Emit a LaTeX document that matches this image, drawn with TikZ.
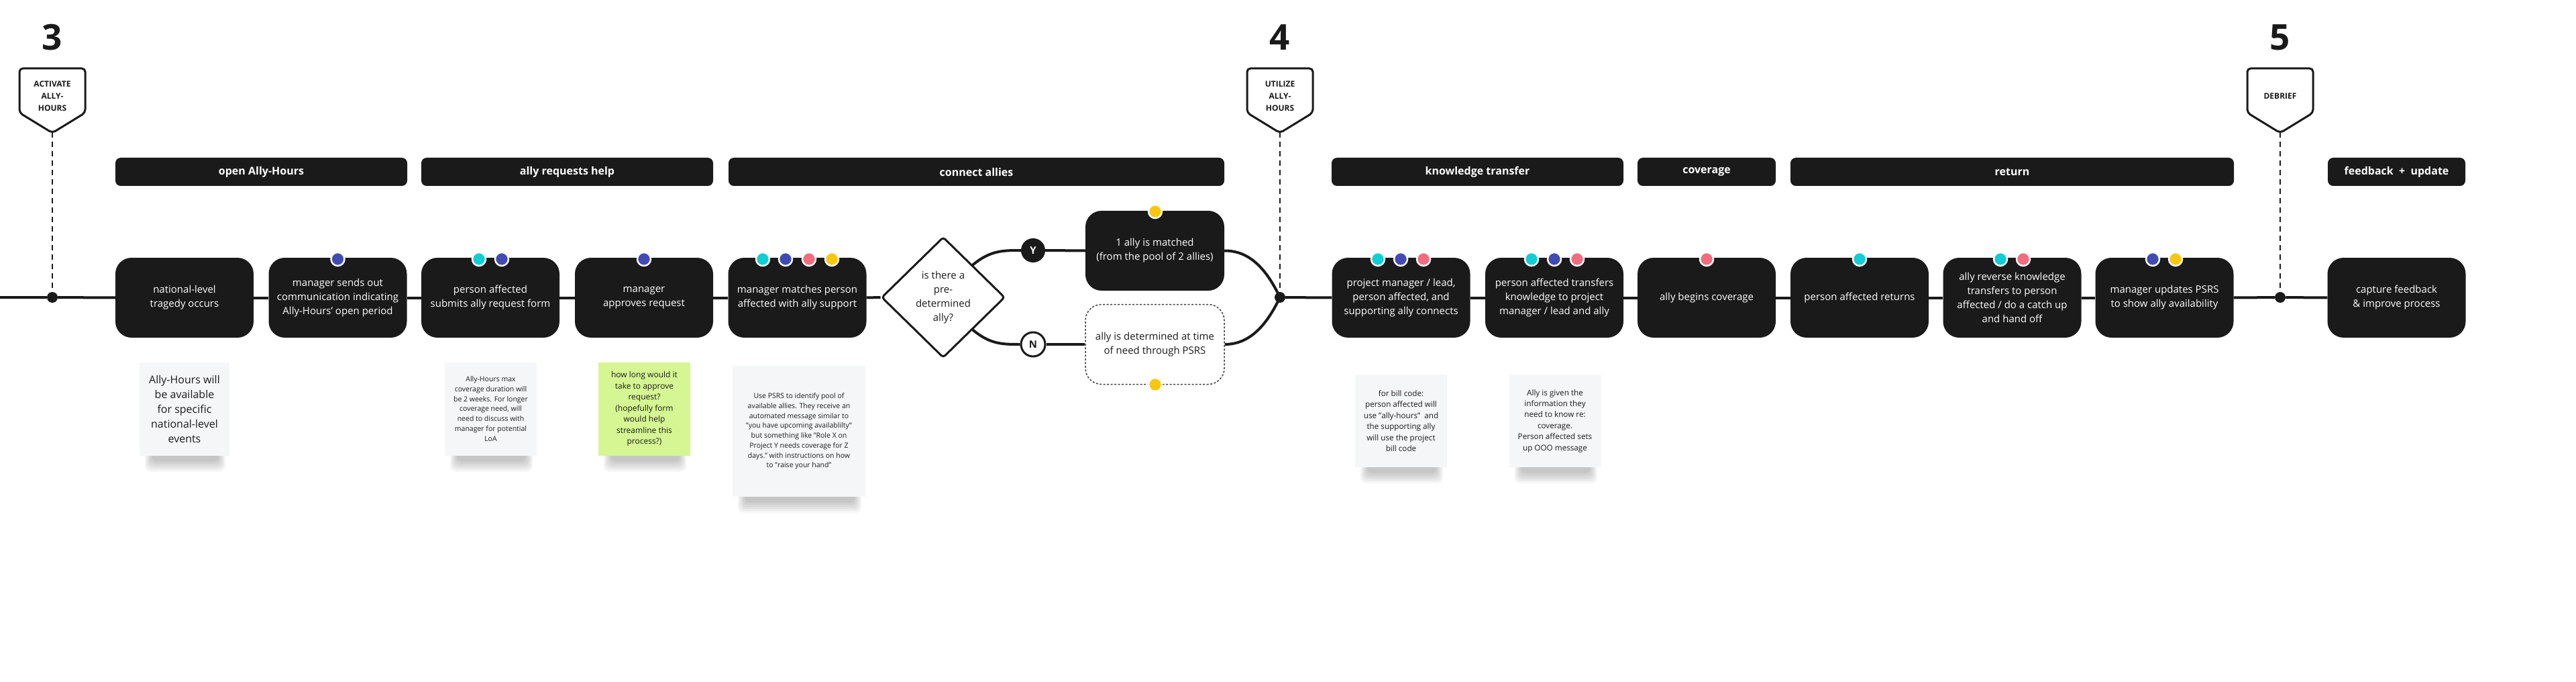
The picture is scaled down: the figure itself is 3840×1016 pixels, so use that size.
\documentclass[tikz,border=0pt]{standalone}
\usepackage{fontspec}
\setmainfont{Open Sans}
\usetikzlibrary{shapes.geometric}
\definecolor{ink}{HTML}{1A1A1A}
\definecolor{mcyan}{HTML}{12CDD4}
\definecolor{mblue}{HTML}{414BB2}
\definecolor{mpink}{HTML}{F16C7F}
\definecolor{myellow}{HTML}{FAC710}
\definecolor{notegrey}{HTML}{F5F6F8}
\definecolor{notegreen}{HTML}{D5F692}
\pgfdeclarelayer{bg}
\pgfsetlayers{bg,main}
\newcommand\mkflag[3]{%
  \draw[ink, line width=3pt, fill=white, rounded corners=5pt]
    (#2-49,102) -- (#2+49,102) -- (#2+49,168) -- (#2,198) -- (#2-49,168) -- cycle;
  \node[flagtext] (#1) at (#2,143) {#3};
  \coordinate (#1tip) at (#2,197);
}
\newcommand\mdot[3]{\node[mdotst, fill=#3] (#1) at (#2) {};}
\newcommand\mknote[8]{%
  \pgfmathsetmacro\nxl{#2-#4/2}\pgfmathsetmacro\nxr{#2+#4/2}\pgfmathsetmacro\nyb{#3+#5/2}
  \foreach \k in {0,...,5}{\fill[black,opacity=0.04,rounded corners=8pt]
    (\nxl+8+2*\k,\nyb-6) rectangle (\nxr-6-2*\k,\nyb+24-3*\k);}
  \node[note, fill=#6, minimum width=#4pt, minimum height=#5pt, font=#7] (#1) at (#2,#3) {#8};
}
\begin{document}
\begin{tikzpicture}[x=1pt,y=-1pt,
  stepbox/.style={fill=ink, rounded corners=24pt, minimum width=206pt, minimum height=119pt,
    text=white, align=center, font=\fontsize{15}{21}\selectfont, inner sep=0pt},
  phase/.style={fill=ink, rounded corners=8pt, minimum height=42pt, text=white,
    font=\bfseries\fontsize{16}{20}\selectfont, inner sep=0pt},
  flagtext/.style={text=ink, align=center, font=\bfseries\fontsize{12}{18}\selectfont, inner sep=0pt},
  numst/.style={text=ink, font=\bfseries\fontsize{53}{60}\selectfont, inner sep=0pt},
  tdot/.style={circle, fill=ink, minimum size=16pt, inner sep=0pt},
  mdotst/.style={circle, draw=white, line width=2.5pt, minimum size=20pt, inner sep=0pt},
  flow/.style={draw=ink, line width=4pt},
  tdash/.style={draw=ink, line width=2pt, dash pattern=on 8pt off 6pt},
  note/.style={inner sep=0pt, text=ink, align=center},
  yn/.style={circle, minimum size=36pt, inner sep=0pt, font=\bfseries\fontsize{15}{18}\selectfont},
]
\useasboundingbox (0,0) rectangle (3840,1016);
\begin{pgfonlayer}{bg}
  \fill[white] (0,0) rectangle (3840,1016);
\end{pgfonlayer}

% phase numbers
\node[numst] (n3) at (78,56) {3};
\node[numst] (n4) at (1908,56) {4};
\node[numst] (n5) at (3399,56) {5};

% flags
\mkflag{f3}{78}{ACTIVATE\\ALLY-\\HOURS}
\mkflag{f4}{1908}{UTILIZE\\ALLY-\\HOURS}
\mkflag{f5}{3399}{DEBRIEF}

% phase headers
\node[phase, minimum width=435pt] (h1) at (389.5,256) {open Ally-Hours};
\node[phase, minimum width=435pt] (h2) at (845.5,256) {ally requests help};
\node[phase, minimum width=739pt] (h3) at (1455.5,256) {connect allies};
\node[phase, minimum width=435pt] (h4) at (2202.5,256) {knowledge transfer};
\node[phase, minimum width=206pt] (h5) at (2544,256) {coverage};
\node[phase, minimum width=661pt] (h6) at (2999.5,256) {return};
\node[phase, minimum width=205pt] (h7) at (3572.5,256) {feedback\ \ +\ \ update};

% timeline start and markers
\coordinate (start) at (0,443);
\node[tdot] (t3) at (78,443) {};
\node[tdot] (t4) at (1908,443) {};
\node[tdot] (t5) at (3399,443) {};

% steps
\node[stepbox] (b1) at (275,443.5) {national-level\\tragedy occurs};
\node[stepbox] (b2) at (503.5,443.5) {manager sends out\\communication indicating\\Ally-Hours' open period};
\node[stepbox] (b3) at (731,443.5) {person affected\\submits ally request form};
\node[stepbox] (b4) at (960,443.5) {manager\\approves request};
\node[stepbox] (b5) at (1188.5,443.5) {manager matches person\\affected with ally support};
\node[diamond, draw=ink, fill=white, line width=3pt, rounded corners=4pt,
  minimum width=184pt, minimum height=180pt, inner sep=0pt, align=center,
  text=ink, font=\fontsize{15}{21}\selectfont] (dia) at (1406,443) {is there a\\pre-\\determined\\ally?};
\node[yn, fill=ink, text=white] (Y) at (1540,373) {Y};
\node[yn, draw=ink, line width=3pt, fill=white, text=ink] (N) at (1540,513) {N};
\node[stepbox, minimum width=207pt] (m1) at (1721.5,373.5) {1 ally is matched\\(from the pool of 2 allies)};
\node[stepbox, minimum width=207pt, fill=white, text=ink, draw=ink!85, line width=1.5pt,
  dash pattern=on 3pt off 2.5pt] (m2) at (1721.5,513) {ally is determined at time\\of need through PSRS};
\node[stepbox] (b6) at (2088.5,443.5) {project manager / lead,\\person affected, and\\supporting ally connects};
\node[stepbox] (b7) at (2317,443.5) {person affected transfers\\knowledge to project\\manager / lead and ally};
\node[stepbox] (b8) at (2544,443.5) {ally begins coverage};
\node[stepbox] (b9) at (2772,443.5) {person affected returns};
\node[stepbox] (b10) at (2999.5,443.5) {ally reverse knowledge\\transfers to person\\affected / do a catch up\\and hand off};
\node[stepbox] (b11) at (3226.5,443.5) {manager updates PSRS\\to show ally availability};
\node[stepbox] (b12) at (3572.5,443.5) {capture feedback\\\& improve process};

% role dots
\mdot{d2a}{503.5,386}{mblue}
\mdot{d3a}{714,386}{mcyan}
\mdot{d3b}{748,386}{mblue}
\mdot{d4a}{960,386}{mblue}
\mdot{d5a}{1137,386}{mcyan}
\mdot{d5b}{1171,386}{mblue}
\mdot{d5c}{1206,386}{mpink}
\mdot{d5d}{1240,386}{myellow}
\mdot{dm1}{1722,315}{myellow}
\mdot{dm2}{1722,573}{myellow}
\mdot{d6a}{2054,386}{mcyan}
\mdot{d6b}{2088,386}{mblue}
\mdot{d6c}{2122,386}{mpink}
\mdot{d7a}{2283,386}{mcyan}
\mdot{d7b}{2317,386}{mblue}
\mdot{d7c}{2351,386}{mpink}
\mdot{d8a}{2544,386}{mpink}
\mdot{d9a}{2772,386}{mcyan}
\mdot{d10a}{2982,386}{mcyan}
\mdot{d10b}{3016,386}{mpink}
\mdot{d11a}{3209,386}{mblue}
\mdot{d11b}{3243,386}{myellow}

% sticky notes
\mknote{s1}{275}{609}{134}{139}{notegrey}{\fontsize{16}{22}\selectfont}{Ally-Hours will\\be available\\for specific\\national-level\\events}
\mknote{s2}{731.5}{609}{137}{139}{notegrey}{\fontsize{10.5}{14.7}\selectfont}{Ally-Hours max\\coverage duration will\\be 2 weeks. For longer\\coverage need, will\\need to discuss with\\manager for potential\\LoA}
\mknote{s3}{960.5}{609}{137}{139}{notegreen}{\fontsize{12}{16.5}\selectfont}{how long would it\\take to approve\\request?\\(hopefully form\\would help\\streamline this\\process?)}
\mknote{s4}{1191}{642.5}{198}{195}{notegrey}{\fontsize{10.5}{14.7}\selectfont}{Use PSRS to identify pool of\\available allies. They receive an\\automated message similar to\\"you have upcoming availablilty"\\but something like "Role X on\\Project Y needs coverage for Z\\days." with instructions on how\\to "raise your hand"}
\mknote{s5}{2088.5}{627}{137}{138}{notegrey}{\fontsize{11.7}{16.4}\selectfont}{for bill code:\\person affected will\\use "ally-hours"\ \ and\\the supporting ally\\will use the project\\bill code}
\mknote{s6}{2318}{627}{137}{138}{notegrey}{\fontsize{11.7}{16.4}\selectfont}{Ally is given the\\information they\\need to know re:\\coverage.\\Person affected sets\\up OOO message}

% connectors
\begin{pgfonlayer}{bg}
  \draw[tdash] (f3tip) -- (t3);
  \draw[tdash] (f4tip) -- (t4);
  \draw[tdash] (f5tip) -- (t5);
  \draw[flow] (start) -- (t3) -- (b1.west);
  \draw[flow] (b1.east) -- (b2.west);
  \draw[flow] (b2.east) -- (b3.west);
  \draw[flow] (b3.east) -- (b4.west);
  \draw[flow] (b4.east) -- (b5.west);
  \draw[flow] (b5.east) -- (dia.west);
  \draw[flow] (dia.center) .. controls (1460,373) and (1482,373) .. (Y.west);
  \draw[flow] (dia.center) .. controls (1460,513) and (1482,513) .. (N.west);
  \draw[flow] (Y.east) -- (m1.west);
  \draw[flow] (N.east) -- (m2.west);
  \draw[flow] (m1.east) .. controls (1868,373) and (1892,410) .. (t4.center);
  \draw[flow] (m2.east) .. controls (1868,513) and (1892,476) .. (t4.center);
  \draw[flow] (t4) -- (b6.west);
  \draw[flow] (b6.east) -- (b7.west);
  \draw[flow] (b7.east) -- (b8.west);
  \draw[flow] (b8.east) -- (b9.west);
  \draw[flow] (b9.east) -- (b10.west);
  \draw[flow] (b10.east) -- (b11.west);
  \draw[flow] (b11.east) -- (t5) -- (b12.west);
\end{pgfonlayer}
\end{tikzpicture}
\end{document}
